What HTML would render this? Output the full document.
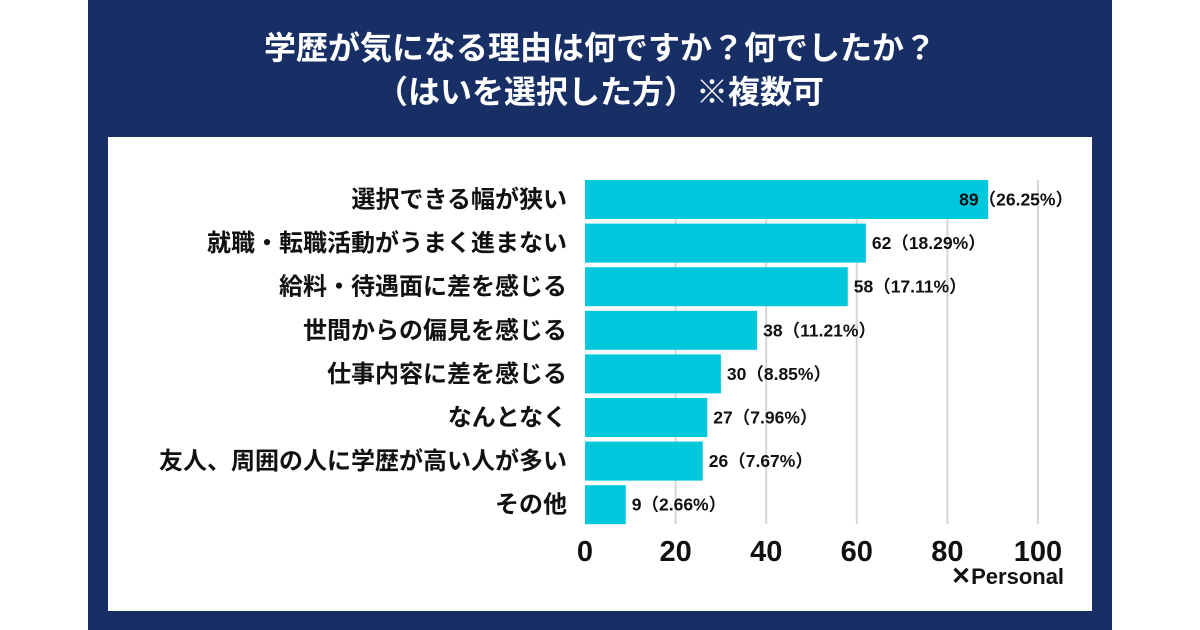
<!DOCTYPE html>
<html><head><meta charset="utf-8">
<style>
body{margin:0;width:1200px;height:630px;background:#fff;overflow:hidden;font-family:"Liberation Sans","Noto Sans CJK JP",sans-serif;}
#navy{position:absolute;left:88px;top:0;width:1024px;height:630px;background:#182f66;}
#inner{position:absolute;left:108px;top:137px;width:984px;height:474px;background:#fff;}
.t{position:absolute;left:88px;width:1024px;text-align:center;color:#fff;font-weight:bold;font-size:32px;line-height:40px;}
</style></head><body>
<div id="navy"></div>
<div id="inner"></div>
<div class="t" style="top:28px">学歴が気になる理由は何ですか？何でしたか？</div>
<div class="t" style="top:72px">（はいを選択した方）※複数可</div>
<svg id="chart" width="1200" height="630" style="position:absolute;left:0;top:0"></svg>
<script>
const categories=["選択できる幅が狭い","就職・転職活動がうまく進まない","給料・待遇面に差を感じる","世間からの偏見を感じる","仕事内容に差を感じる","なんとなく","友人、周囲の人に学歴が高い人が多い","その他"];
const values=[89,62,58,38,30,27,26,9];
const percents=["26.25%","18.29%","17.11%","11.21%","8.85%","7.96%","7.67%","2.66%"];
const ticks=[0,20,40,60,80,100];
const NS="http://www.w3.org/2000/svg";
const svg=document.getElementById('chart');
const x0=585,x1=1038,top0=180,pitch=43.6,bh=39;
const xs=v=>x0+(x1-x0)*v/100;
function mk(t,a,txt){const e=document.createElementNS(NS,t);for(const k in a)e.setAttribute(k,a[k]);if(txt!=null)e.textContent=txt;svg.appendChild(e);return e;}
ticks.forEach(t=>{if(t>0){const g=mk('line',{x1:xs(t),x2:xs(t),y1:top0,y2:524,stroke:'#d6d6d6','stroke-width':2});

}
const l=mk('text',{x:xs(t),y:561,'text-anchor':'middle','font-size':29,'font-weight':'bold',fill:'#111'},t);

});
categories.forEach((c,i)=>{const y=top0+i*pitch;
const b=mk('rect',{x:x0,y:y,width:xs(values[i])-x0,height:bh,fill:'#00c8dc'});


const l=mk('text',{x:567,y:y+bh/2+8,'text-anchor':'end','font-size':24,'font-weight':'bold',fill:'#111'},c);


const v=mk('text',{x:xs(values[i])+(i==0?-29:6),y:y+bh/2+6,'font-size':17.5,'font-weight':'bold',fill:'#111'},values[i]+'（'+percents[i]+'）');

});
</script>
<div style="position:absolute;left:951px;top:562px;font-size:22px;font-weight:bold;color:#111;"><span style="font-size:24px">✕</span>Personal</div>
</body></html>
